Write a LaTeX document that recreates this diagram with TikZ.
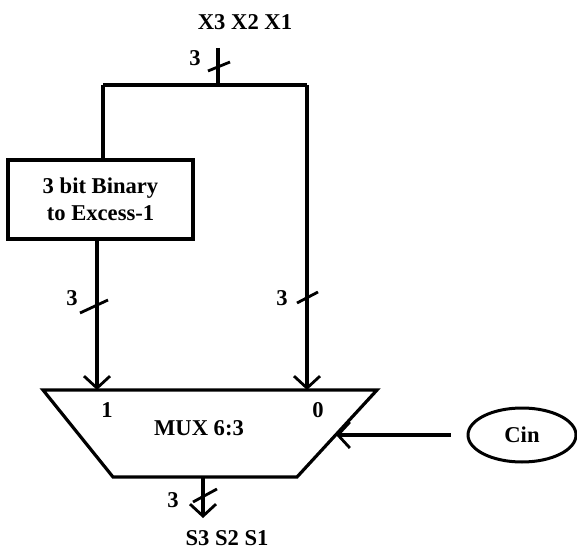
\documentclass[tikz,border=0pt]{standalone}
\usepackage{fontspec}
\setmainfont{Liberation Serif}
\usetikzlibrary{positioning, arrows.meta, shapes.geometric}

\begin{document}
\begin{tikzpicture}[
  x=0.5pt, y=-0.5pt,
  >={Straight Barb[length=6pt, width=13pt, line width=1.4pt]},
  wire/.style={line width=1.6pt},
  bus/.style={wire, ->},
  tickmark/.style={line width=1.4pt},
  lbl/.style={font=\bfseries\fontsize{11.3}{13.5}\selectfont, inner sep=0pt},
  block/.style={draw, line width=2pt, minimum width=92.5pt, minimum height=39.5pt,
    align=center, font=\bfseries\fontsize{11.3}{13.5}\selectfont}
]
\useasboundingbox (0,0) rectangle (577,550);

% --- Nodes ---
\node[lbl] (xin) at (245,22) {X3 X2 X1};
\node[block] (conv) at (100.5,199.5) {3 bit Binary\\ to Excess-1};
\node[lbl] (sel1) at (107,410) {1};
\node[lbl] (sel0) at (318,410) {0};
\node[lbl] (mux) at (199,428) {MUX 6:3};
\node[ellipse, draw, line width=1.5pt, minimum width=54pt, minimum height=27pt,
  inner sep=0pt, font=\bfseries\fontsize{11.3}{13.5}\selectfont] (cin) at (522,435) {Cin};
\node[lbl] (sout) at (227,538) {S3 S2 S1};

% --- Coordinates ---
\coordinate (src) at (218,48);
\coordinate (split) at (218,85);
\coordinate (lt) at (103,85);
\coordinate (rt) at (307,85);
\coordinate (in1) at (97,390);
\coordinate (in0) at (307,390);
\coordinate (sel) at (336,435);
\coordinate (out) at (203,477);
\coordinate (outtip) at (203,518);

% --- MUX body ---
\draw[wire] (43,390) -- (377,390) -- (297,477) -- (113,477) -- cycle;

% --- Wires ---
\draw[wire] (src) -- (split);
\draw[wire] (lt) -- (rt);
\draw[wire] (lt) -- (lt |- conv.north);
\draw[bus] (in1 |- conv.south) -- (in1);
\draw[bus] (rt) -- (in0);
\draw[bus, shorten <=8pt] (cin.west) -- (sel);
\draw[bus] (out) -- (outtip);

% --- Bus widths ---
\draw[tickmark] (208,71) -- (230,62);
\node[lbl] at (195,58) {3};
\draw[tickmark] (80,313) -- (108,300);
\node[lbl] at (72,298) {3};
\draw[tickmark] (297,303) -- (318,292);
\node[lbl] at (282,298) {3};
\draw[tickmark] (193,502) -- (217,489);
\node[lbl] at (173,500) {3};

\end{tikzpicture}
\end{document}
